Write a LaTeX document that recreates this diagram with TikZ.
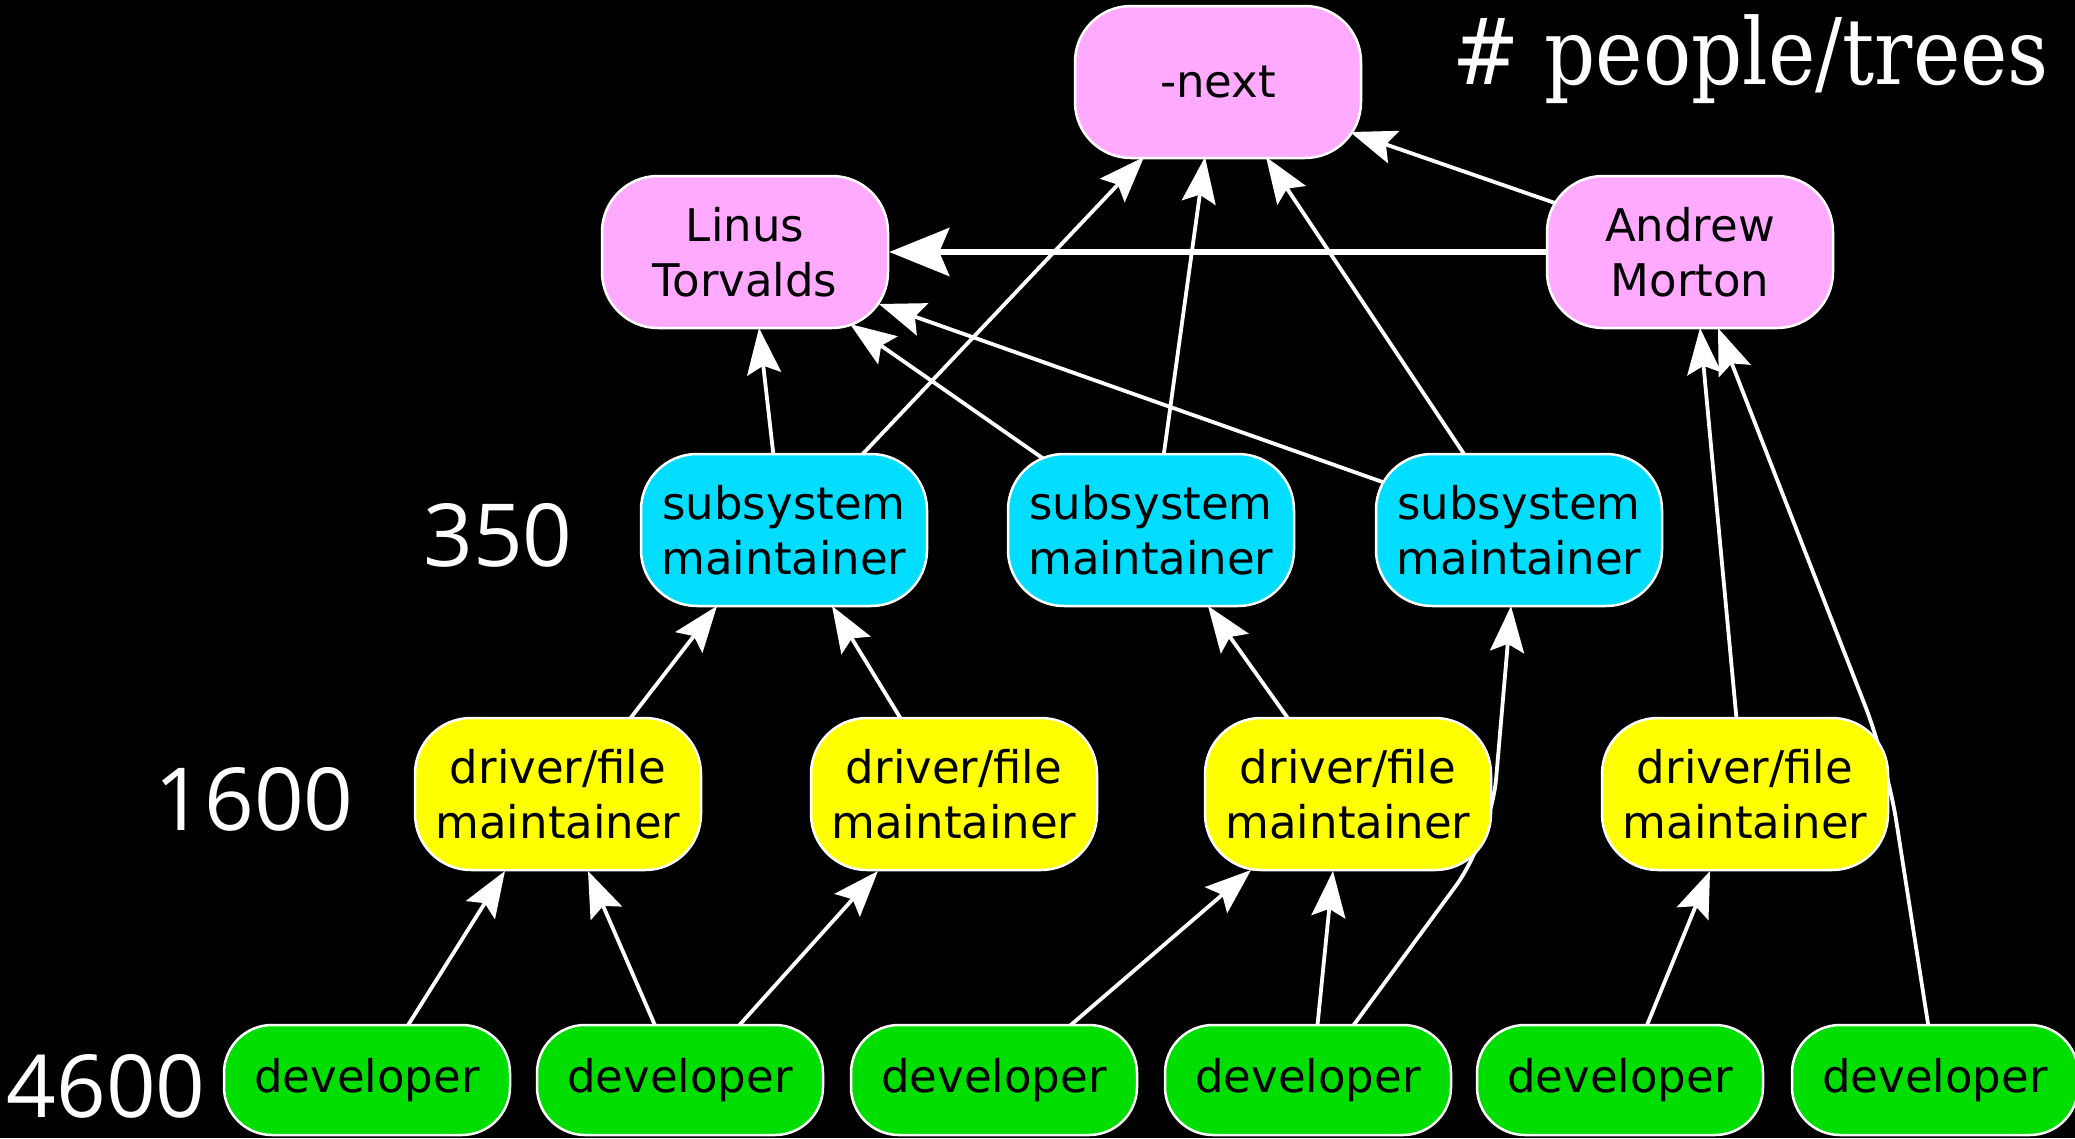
\documentclass[tikz,border=0pt]{standalone}
\usepackage{fontspec}
\usetikzlibrary{arrows.meta,calc}
\newfontfamily\boxfont{DejaVu Sans}
\newfontfamily\countfont{Open Sans}
\newfontfamily\titlefont[FakeStretch=0.87]{DejaVu Serif}
\definecolor{toppink}{HTML}{FFAAFF}
\definecolor{subcyan}{HTML}{00DDFF}
\definecolor{drvyellow}{HTML}{FFFF00}
\definecolor{devgreen}{HTML}{00DD00}
\pgfdeclarelayer{edges}
\pgfsetlayers{edges,main}
\begin{document}
\begin{tikzpicture}[x=1pt,y=-1pt,
  box/.style={draw=white, line width=2.5pt, rounded corners=56pt,
    minimum width=286pt, minimum height=152pt, inner sep=0pt,
    align=center, text=black, font=\boxfont\fontsize{45}{55}\selectfont},
  topbox/.style={box, fill=toppink},
  subbox/.style={box, fill=subcyan},
  drvbox/.style={box, fill=drvyellow},
  devbox/.style={box, fill=devgreen, minimum height=110pt, rounded corners=48pt},
  link/.style={draw=white, line width=3.8pt,
    -{Stealth[length=46pt,width=34pt,inset=8pt]}},
  biglink/.style={draw=white, line width=6pt,
    -{Stealth[length=60pt,width=48pt,inset=10pt]}},
  count/.style={text=white, inner sep=0pt,
    font=\countfont\fontsize{87}{100}\selectfont},
]
\useasboundingbox (0,0) rectangle (2075,1138);

% top row
\node[topbox] (next)   at (1218,82)  {-next};
\node[topbox] (linus)  at (745,252)  {Linus\\Torvalds};
\node[topbox] (andrew) at (1690,252) {Andrew\\Morton};

% subsystem maintainers
\node[subbox] (sub1) at (784,530)  {subsystem\\maintainer};
\node[subbox] (sub2) at (1151,530) {subsystem\\maintainer};
\node[subbox] (sub3) at (1519,530) {subsystem\\maintainer};

% driver/file maintainers
\node[drvbox] (drv1) at (558,794)  {driver/file\\maintainer};
\node[drvbox] (drv2) at (954,794)  {driver/file\\maintainer};
\node[drvbox] (drv3) at (1348,794) {driver/file\\maintainer};
\node[drvbox] (drv4) at (1745,794) {driver/file\\maintainer};

% developers
\node[devbox] (dev1) at (367,1080)  {developer};
\node[devbox] (dev2) at (680,1080)  {developer};
\node[devbox] (dev3) at (994,1080)  {developer};
\node[devbox] (dev4) at (1308,1080) {developer};
\node[devbox] (dev5) at (1620,1080) {developer};
\node[devbox] (dev6) at (1935,1080) {developer};

% head counts per level
\node[count] (c350)  at (498,535)  {350};
\node[count] (c1600) at (254,799)  {1600};
\node[count] (c4600) at (106,1086) {4600};

\node[anchor=base west, inner sep=0pt, text=white,
  font=\titlefont\fontsize{92}{100}\selectfont] (title) at (1452,84) {\# people/trees};

% bends of the two long edges
\coordinate (bendA) at (1491,838);
\coordinate (bendB) at (1887,762);

\begin{pgfonlayer}{edges}
\fill[black] (0,0) rectangle (2075,1138);
\draw[link] ($(andrew)+(-135,-49)$) -- ($(next)+(132,50)$);
\draw[biglink] (andrew.west) -- (linus.east);
\draw[link] ($(sub1)+(-10,-70)$) -- ($(linus)+(14,76)$);
\draw[link] ($(sub1)+(73,-70)$) -- ($(next)+(-74,75)$);
\draw[link] ($(sub2)+(-100,-66)$) -- ($(linus)+(105,72)$);
\draw[link] ($(sub2)+(12,-70)$) -- ($(next)+(-13,75)$);
\draw[link] ($(sub3)+(-128,-45)$) -- ($(linus)+(134,52)$);
\draw[link] ($(sub3)+(-51,-70)$) -- ($(next)+(48,75)$);
\draw[link] ($(drv1)+(68,-70)$) -- ($(sub1)+(-67,76)$);
\draw[link] ($(drv2)+(-50,-70)$) -- ($(sub1)+(48,76)$);
\draw[link] ($(drv3)+(-56,-70)$) -- ($(sub2)+(57,76)$);
\draw[link] ($(drv4)+(-8,-70)$) -- ($(andrew)+(10,76)$);
\draw[link] ($(dev1)+(38,-50)$) -- ($(drv1)+(-53,77)$);
\draw[link] ($(dev2)+(-23,-50)$) -- ($(drv1)+(30,77)$);
\draw[link] ($(dev2)+(55,-50)$) -- ($(drv2)+(-76,77)$);
\draw[link] ($(dev3)+(71,-50)$) -- ($(drv3)+(-97,76)$);
\draw[link] ($(dev4)+(9,-50)$) -- ($(drv3)+(-15,77)$);
\draw[link, rounded corners=60pt] ($(dev4)+(42,-50)$) -- (bendA) -- ($(sub3)+(-8,76)$);
\draw[link] ($(dev5)+(25,-50)$) -- ($(drv4)+(-35,77)$);
\draw[link, rounded corners=60pt] ($(dev6)+(-6,-50)$) -- (bendB) -- ($(andrew)+(28,76)$);
\end{pgfonlayer}
\end{tikzpicture}
\end{document}
